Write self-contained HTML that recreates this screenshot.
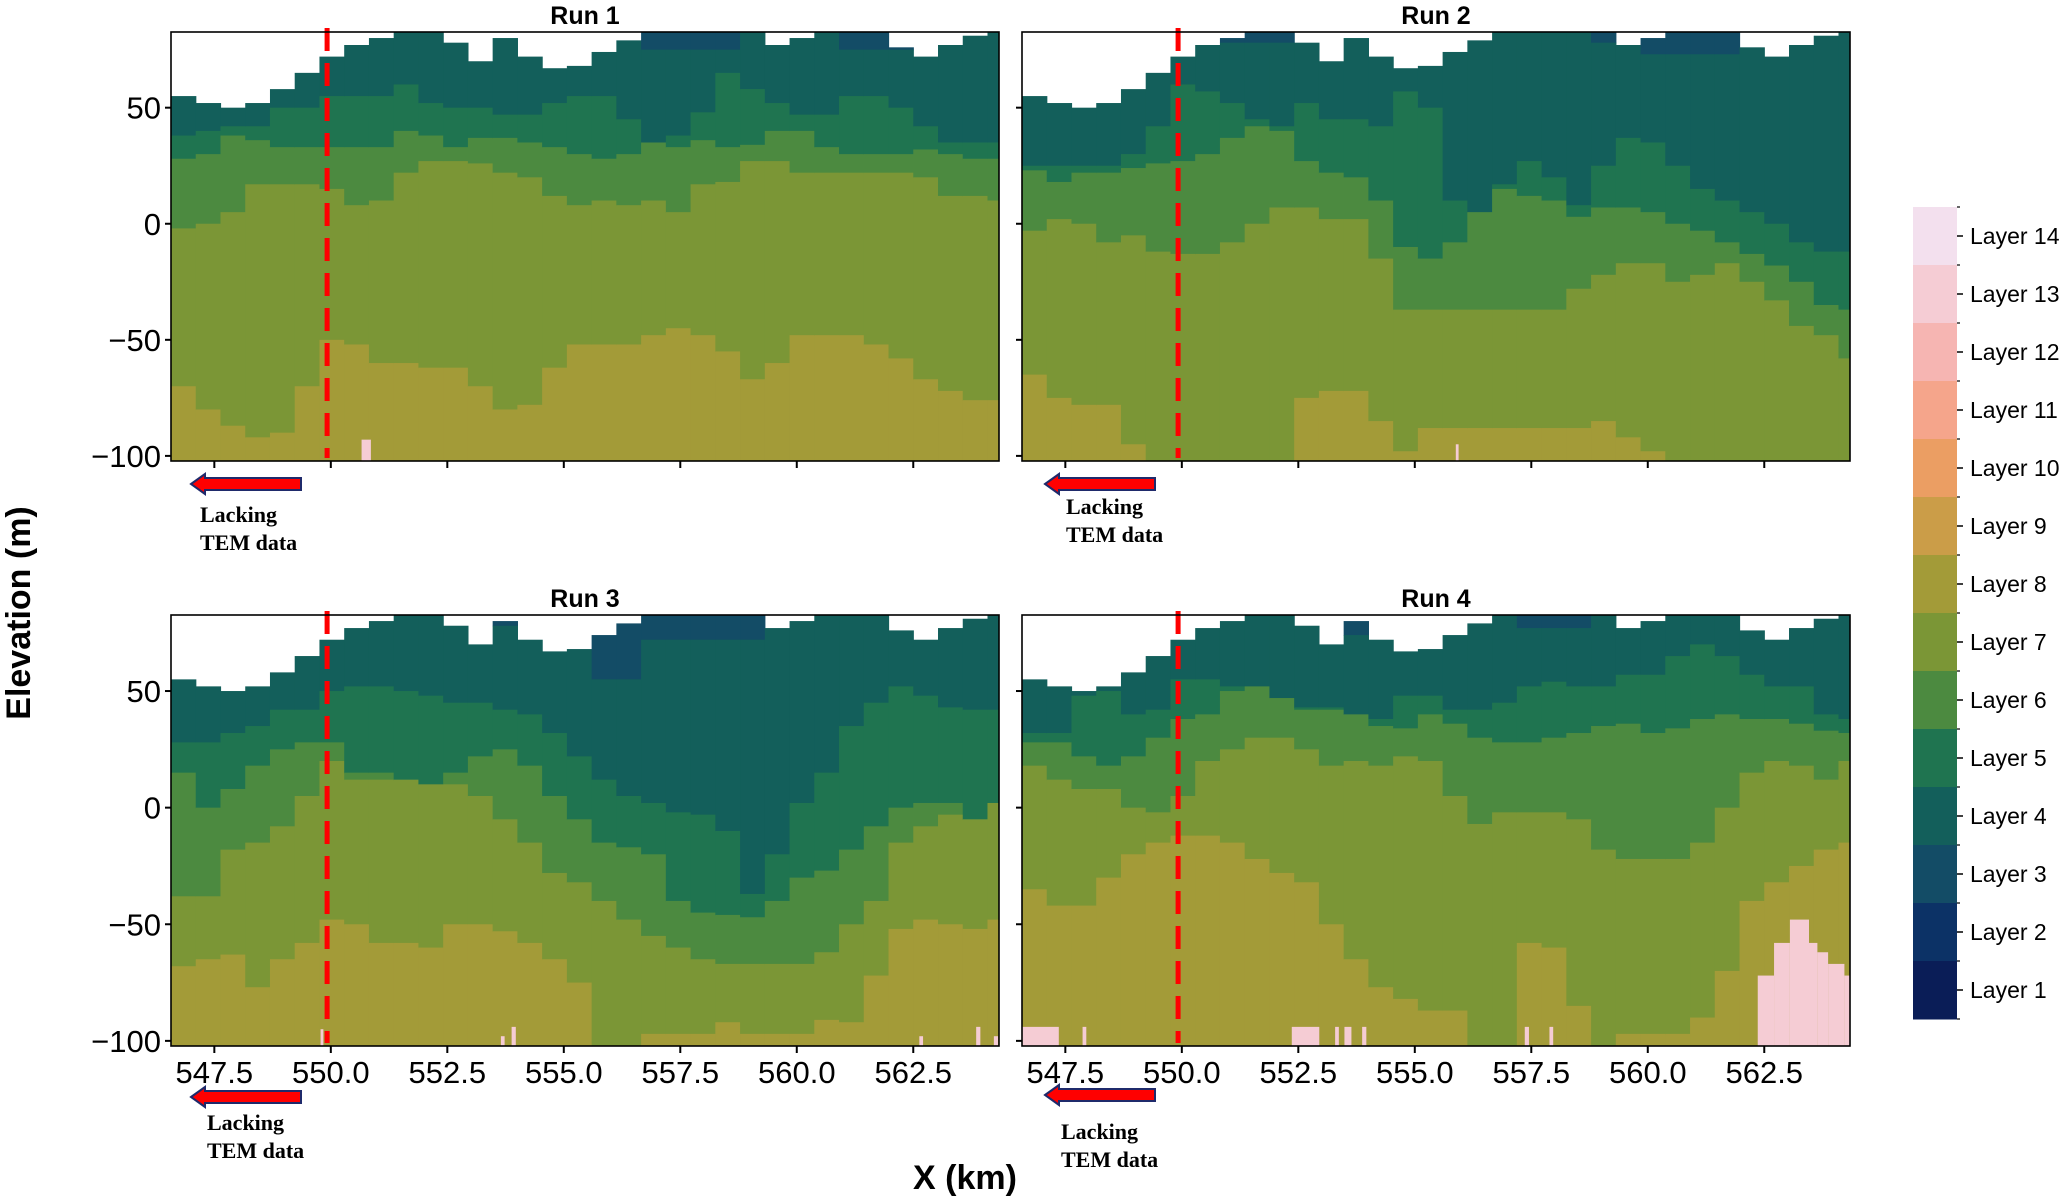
<!DOCTYPE html>
<html><head><meta charset="utf-8"><style>
html,body{margin:0;padding:0;background:#fff;}
svg{display:block;font-family:"Liberation Sans",sans-serif;}
</style></head><body>
<svg id="fig" width="2067" height="1199" viewBox="0 0 2067 1199" xmlns="http://www.w3.org/2000/svg">
<g id="panels"></g>
<g id="cbar"></g>
<text x="0" y="0" transform="translate(30,613) rotate(-90)" text-anchor="middle" font-size="34" font-weight="bold">Elevation (m)</text>
<text x="965" y="1189" text-anchor="middle" font-size="34" font-weight="bold">X (km)</text>
</svg>
<script>
// ---- data ----
const layerNames = ["Layer 1","Layer 2","Layer 3","Layer 4","Layer 5","Layer 6","Layer 7","Layer 8","Layer 9","Layer 10","Layer 11","Layer 12","Layer 13","Layer 14"];
const layerColors = ["#0a1d57","#0c3266","#134c66","#135f5b","#1f7450","#4c8a40","#7b9636","#a39b38","#cb9d48","#eb9e63","#f5a58b","#f6b5b2","#f5ccd4","#f3e0ee"];
const runTitles = ["Run 1","Run 2","Run 3","Run 4"];
const colStart = 546.57, colWidth = 0.531;
const xMin = 546.57, xMax = 564.34, yMin = -102.2, yMax = 82.6;
const yTicks = [50,0,-50,-100];
const yTickLabels = ["50","0","\u221250","\u2212100"];
const xTicks = [547.5,550,552.5,555,557.5,560,562.5];
const xTickLabels = ["547.5","550.0","552.5","555.0","557.5","560.0","562.5"];
const boundaryX = 549.92;

const surface = [55,52,50,52,58,65,72,77,80,83,83,78,70,80,72,67,68,74,79,83,83,83,83,83,77,80,83,83,83,76,72,77,81,83];

const run1L3 = [90,90,90,90,90,90,90,90,90,90,90,90,90,90,90,90,90,90,90,75,75,75,75,90,90,90,90,75,75,75,75,90,90,90];
const run1L4 = [38,40,42,42,50,50,55,55,55,60,52,50,50,47,47,52,55,55,45,35,38,48,65,58,52,47,47,55,55,50,42,35,35,35];
const run1L5 = [28,30,38,36,33,33,33,33,33,40,38,33,37,37,35,33,30,28,30,36,33,36,33,34,40,40,33,30,30,30,32,30,28,28];
const run1L6 = [-2,0,5,17,17,17,15,8,10,22,27,27,26,22,20,12,8,10,8,10,5,17,18,27,27,22,22,22,22,22,20,12,12,10];
const run1L7 = [-70,-80,-87,-92,-90,-70,-50,-52,-60,-60,-62,-62,-70,-80,-78,-62,-52,-52,-52,-48,-45,-48,-55,-67,-60,-48,-48,-48,-52,-58,-67,-72,-76,-76];

const run2L3 = [90,90,90,90,90,90,90,90,78,78,78,90,90,90,90,90,90,90,90,90,90,90,90,78,90,73,73,73,73,90,90,90,90,90];
const run2L4 = [25,25,25,25,30,42,60,57,52,45,42,52,45,45,42,57,50,10,5,17,27,20,8,25,37,35,25,15,10,5,0,-8,-12,-12];
const run2L5 = [23,18,22,22,24,26,27,30,37,42,40,27,22,20,10,-10,-15,-8,5,15,12,10,3,7,7,5,0,-3,-8,-13,-18,-25,-35,-37];
const run2L6 = [-3,2,0,-8,-5,-12,-13,-13,-8,0,7,7,2,2,-15,-37,-37,-37,-37,-37,-37,-37,-28,-22,-17,-17,-25,-22,-17,-25,-33,-44,-48,-58];
const run2L7 = [-65,-75,-78,-78,-95,-102,-102,-102,-102,-102,-102,-75,-72,-72,-85,-98,-88,-88,-88,-88,-88,-88,-88,-85,-92,-98,-102,-102,-102,-102,-102,-102,-102,-102];

const run3L3 = [90,90,90,90,90,90,90,90,90,90,90,90,90,78,90,90,90,55,55,72,72,72,72,72,90,90,90,90,90,90,90,90,90,90];
const run3L4 = [28,28,32,35,42,42,50,52,52,50,48,45,45,42,40,32,22,12,5,2,-2,-3,-10,-37,-20,2,15,35,45,52,48,43,42,42];
const run3L5 = [15,0,8,18,25,28,28,15,15,12,10,15,22,25,18,5,-5,-15,-17,-20,-40,-45,-46,-47,-40,-30,-27,-18,-8,0,2,2,-5,2];
const run3L6 = [-38,-38,-18,-15,-8,5,20,12,12,12,10,10,5,-5,-15,-28,-32,-40,-48,-55,-60,-65,-67,-67,-67,-67,-62,-50,-40,-15,-8,-3,0,2];
const run3L7 = [-68,-65,-63,-77,-65,-58,-48,-50,-58,-58,-60,-50,-50,-53,-58,-65,-75,-102,-102,-97,-97,-97,-92,-97,-97,-97,-91,-92,-72,-52,-48,-50,-52,-48];

const run4L3 = [90,90,90,90,90,90,90,90,90,90,90,90,90,74,90,90,90,90,90,90,77,77,77,90,90,90,90,90,90,90,90,90,90,90];
const run4L4 = [32,32,48,50,40,42,55,55,52,52,47,43,43,40,38,48,48,42,42,45,52,54,52,52,57,57,65,70,65,57,52,52,40,38];
const run4L5 = [28,28,22,18,22,30,38,40,50,52,48,42,42,40,35,34,40,36,30,28,28,30,32,35,36,32,34,38,40,38,38,36,33,32];
const run4L6 = [18,12,8,8,0,-2,5,20,25,30,30,25,18,20,18,22,20,5,-7,-2,-2,-2,-5,-18,-22,-22,-22,-15,0,15,20,18,12,20];
const run4L7 = [-35,-42,-42,-30,-20,-15,-12,-12,-15,-22,-28,-32,-50,-65,-77,-82,-87,-87,-102,-102,-58,-60,-85,-102,-97,-97,-97,-90,-70,-40,-32,-25,-18,-15];

// pink (layer 13) patches: [x0 km, x1 km, top elevation]
const run1Pink = [[550.66,550.86,-93]];
const run2Pink = [[555.88,555.94,-95]];
const run3Pink = [[549.78,549.84,-95],[553.65,553.73,-98],[553.88,553.97,-94],[562.63,562.71,-98],[563.85,563.94,-94],[564.23,564.32,-98]];
const run4Pink = [[546.57,547.36,-94],[547.87,547.95,-94],[552.36,552.95,-94],[553.29,553.37,-94],[553.49,553.64,-94],[553.87,553.96,-94],[557.36,557.45,-94],[557.89,557.97,-94],
  [562.36,562.71,-72],[562.71,563.05,-58],[563.05,563.46,-48],[563.46,563.64,-58],[563.64,563.87,-62],[563.87,564.22,-67],[564.22,564.34,-72]];

// ---- layout ----
const panelBoxes = [
  {x:171,y:32,w:828,h:429},{x:1022,y:32,w:828,h:429},
  {x:171,y:615,w:828,h:431},{x:1022,y:615,w:828,h:431}];
const runData = [
  [run1L3,run1L4,run1L5,run1L6,run1L7,run1Pink],
  [run2L3,run2L4,run2L5,run2L6,run2L7,run2Pink],
  [run3L3,run3L4,run3L5,run3L6,run3L7,run3Pink],
  [run4L3,run4L4,run4L5,run4L6,run4L7,run4Pink]];
const arrowPos = [[191,484,200,522,550],[1045,484,1066,514,542],[191,1097,207,1130,1158],[1045,1095,1061,1139,1167]];

const NS = "http://www.w3.org/2000/svg";
function mk(tag, attrs, parent){const e=document.createElementNS(NS,tag);for(const k in attrs)e.setAttribute(k,attrs[k]);parent.appendChild(e);return e;}

const panelsG = document.getElementById('panels');
panelBoxes.forEach((b,p)=>{
  const sx = km => b.x + (km - xMin) / (xMax - xMin) * b.w;
  const sy = e => b.y + (yMax - e) / (yMax - yMin) * b.h;
  const g = mk('g',{},panelsG);
  
  
  const clipId='clip'+p;
  const cp = mk('clipPath',{id:clipId},g);
  mk('rect',{x:b.x,y:b.y,width:b.w,height:b.h},cp);
  const field = mk('g',{'clip-path':'url(#'+clipId+')'},g);
  
  
  const [l3,l4,l5,l6,l7,pink] = runData[p];
  for(let i=0;i<surface.length;i++){
    const x0 = sx(colStart + i*colWidth), x1 = sx(colStart + (i+1)*colWidth) + 0.6;
    let top = surface[i];
    const bounds = [[l3[i],2],[l4[i],3],[l5[i],4],[l6[i],5],[l7[i],6],[yMin,7]];
    for(const [bot,li] of bounds){
      const bb = Math.min(bot, top);
      if(bb < top){
        const r = mk('rect',{x:x0,y:sy(top),width:x1-x0,height:sy(bb)-sy(top)+0.6,fill:layerColors[li]},field);
        
        
      }
      top = bb;
    }
  }
  pink.forEach(pk=>{
    const r = mk('rect',{x:sx(pk[0]),y:sy(pk[2]),width:sx(pk[1])-sx(pk[0]),height:sy(yMin)-sy(pk[2]),fill:layerColors[12]},field);
    
    
  });
  const dl = mk('line',{x1:sx(boundaryX),x2:sx(boundaryX),y1:b.y-4,y2:b.y+b.h-3,stroke:'#ff0000','stroke-width':5,'stroke-dasharray':'23 12'},g);
  
  
  const fr = mk('rect',{x:b.x,y:b.y,width:b.w,height:b.h,fill:'none',stroke:'#000','stroke-width':1.6},g);
  
  
  const t = mk('text',{x:b.x+b.w/2,y:b.y-8,'text-anchor':'middle','font-size':25,'font-weight':'bold'},g);
  t.textContent = runTitles[p];
  
  
  yTicks.forEach((v,k)=>{
    const tk = mk('line',{x1:b.x-6,x2:b.x,y1:sy(v),y2:sy(v),stroke:'#000','stroke-width':2},g);
    
    
    if(p%2===0){
      const tl = mk('text',{x:b.x-10,y:sy(v)+11,'text-anchor':'end','font-size':31},g);
      tl.textContent = yTickLabels[k];
      
      
    }
  });
  xTicks.forEach((v,k)=>{
    const tk = mk('line',{x1:sx(v),x2:sx(v),y1:b.y+b.h,y2:b.y+b.h+7,stroke:'#000','stroke-width':2},g);
    
    
    if(p>=2){
      const tl = mk('text',{x:sx(v),y:b.y+b.h+37,'text-anchor':'middle','font-size':31},g);
      tl.textContent = xTickLabels[k];
      
      
    }
  });
  const a = arrowPos[p];
  const ax = a[0], ay = a[1];
  const arr = mk('polygon',{points:`${ax},${ay} ${ax+14},${ay-10} ${ax+14},${ay-6} ${ax+110},${ay-6} ${ax+110},${ay+6} ${ax+14},${ay+6} ${ax+14},${ay+10}`,fill:'#ff0000',stroke:'#1f2a6b','stroke-width':2},g);
  
  
  const t1 = mk('text',{x:a[2],y:a[3],'font-size':22,'font-weight':'bold','font-family':'"Liberation Serif",serif'},g);
  t1.textContent='Lacking';
  
  
  const t2 = mk('text',{x:a[2],y:a[4],'font-size':22,'font-weight':'bold','font-family':'"Liberation Serif",serif'},g);
  t2.textContent='TEM data';
  
  
});

const cb = document.getElementById('cbar');
const cbX=1913, cbTop=207, cbW=44, bandH=58;
for(let k=0;k<14;k++){
  const li = 13-k;
  const y = cbTop + k*bandH;
  const r = mk('rect',{x:cbX,y:y,width:cbW,height:bandH+0.5,fill:layerColors[li]},cb);
  
  
  const mt = mk('line',{x1:cbX+cbW,x2:cbX+cbW+6,y1:y+bandH/2,y2:y+bandH/2,stroke:'#000','stroke-width':1.5},cb);
  
  
  const bt = mk('line',{x1:cbX+cbW,x2:cbX+cbW+3,y1:y,y2:y,stroke:'#000','stroke-width':1.2},cb);
  
  
  const tl = mk('text',{x:1970,y:y+bandH/2+8,'font-size':23},cb);
  tl.textContent = layerNames[li];
  
  
}
const endT = mk('line',{x1:cbX+cbW,x2:cbX+cbW+3,y1:cbTop+14*bandH,y2:cbTop+14*bandH,stroke:'#000','stroke-width':1.2},cb);


</script>
</body></html>
